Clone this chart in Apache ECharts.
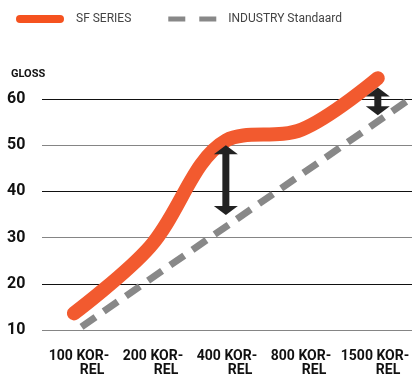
<!DOCTYPE html>
<html>
<head>
<meta charset="utf-8">
<script src="https://cdn.jsdelivr.net/npm/echarts@6/dist/echarts.min.js"></script>
<style>
  html, body { margin: 0; padding: 0; background: #fff; }
  #chart { width: 419px; height: 383px; }
</style>
</head>
<body>
<div id="chart"></div>
<script>
// categories and values
var categories = ['100 KOR-', '200 KOR-', '400 KOR-', '800 KOR-', '1500 KOR-']
var sfIndex = [0, 1, 2, 3, 4]
var sfValues = [13.6, 28, 51, 53.4, 64.5]
// industry trend line endpoints (category index, gloss)
var industryIndex = [0.1, 4.46]
var industryValues = [10.7, 60.4]
// gap arrows: category index, top tip, bottom tip
var arrowIndex = [2, 4]
var arrowTop = [50, 62.5]
var arrowBottom = [34.9, 56.5]

var chart = echarts.init(document.getElementById('chart'))

var font = 'Roboto, "Liberation Sans", sans-serif'

// double headed arrow between two gloss values
function renderArrow(params, api) {
  var top = api.coord([api.value(0), api.value(1)])
  var bot = api.coord([api.value(0), api.value(2)])
  var x = top[0]
  var head = 9
  var hw = 12
  return {
    type: 'group',
    children: [
      {
        type: 'rect',
        shape: { x: x - 3.5, y: top[1] + head - 1, width: 7, height: bot[1] - top[1] - 2 * head + 2 },
        style: { fill: '#222' }
      },
      {
        type: 'polygon',
        shape: { points: [[x, top[1]], [x + hw, top[1] + head], [x - hw, top[1] + head]] },
        style: { fill: '#222' }
      },
      {
        type: 'polygon',
        shape: { points: [[x, bot[1]], [x + hw, bot[1] - head], [x - hw, bot[1] - head]] },
        style: { fill: '#222' }
      }
    ]
  }
}

chart.setOption({
  backgroundColor: '#fff',
  animation: false,
  title: {
    text: 'GLOSS',
    left: 6,
    top: 64,
    textStyle: { fontFamily: font, fontSize: 11, fontWeight: 'bold', color: '#111' }
  },
  legend: {
    left: 11,
    top: 8,
    itemWidth: 48,
    itemHeight: 8,
    itemGap: 37,
    textStyle: { fontFamily: font, fontSize: 12, color: '#444', padding: [0, 0, 0, 7] },
    data: [
      {
        name: 'SF SERIES',
        icon: 'path://M4,0H44A4,4 0 0 1 44,8H4A4,4 0 0 1 4,0Z',
        itemStyle: { color: '#f5521f' }
      },
      {
        name: 'INDUSTRY Standaard',
        icon: 'path://M0,0H17V5H0Z M31,0H48V5H31Z',
        itemStyle: { color: '#888' }
      }
    ]
  },
  grid: {
    left: 42,
    right: 7,
    top: 99,
    bottom: 53
  },
  xAxis: [
    {
      type: 'category',
      data: categories,
      boundaryGap: true,
      axisLine: { show: false },
      axisTick: { show: false },
      axisLabel: {
        interval: 0,
        hideOverlap: false,
        margin: 19,
        fontFamily: font,
        fontSize: 14,
        fontWeight: 'bold',
        color: '#111',
        lineHeight: 14,
        formatter: function(v) {
          return v + '\n{r|REL}'
        },
        rich: {
          r: {
            fontFamily: font,
            fontSize: 14,
            fontWeight: 'bold',
            color: '#111',
            lineHeight: 14,
            padding: [0, 0, 0, 26]
          }
        }
      }
    },
    {
      type: 'value',
      show: false,
      min: -0.42,
      max: 4.45
    }
  ],
  yAxis: {
    type: 'value',
    min: 10,
    max: 60,
    interval: 10,
    axisLine: { show: false },
    axisTick: { show: false },
    axisLabel: {
      align: 'left',
      margin: 35,
      fontFamily: font,
      fontSize: 16,
      fontWeight: 'bold',
      color: '#111'
    },
    splitLine: {
      lineStyle: { color: ['#858585', '#111'], width: 1.2 }
    }
  },
  series: [
    {
      name: 'INDUSTRY Standaard',
      type: 'line',
      xAxisIndex: 1,
      clip: false,
      symbol: 'none',
      data: industryIndex.map(function(x, i) { return [x, industryValues[i]] }),
      lineStyle: { color: '#888', width: 7, type: [17, 10] },
      itemStyle: { color: '#888' }
    },
    {
      name: 'SF SERIES',
      type: 'line',
      xAxisIndex: 1,
      clip: false,
      symbol: 'none',
      smooth: 0.35,
      data: sfIndex.map(function(x, i) { return [x, sfValues[i]] }),
      lineStyle: { color: '#f25a2f', width: 14, cap: 'round' },
      itemStyle: { color: '#f25a2f' }
    },
    {
      name: 'gap',
      type: 'custom',
      xAxisIndex: 1,
      clip: false,
      silent: true,
      renderItem: renderArrow,
      data: arrowIndex.map(function(x, i) { return [x, arrowTop[i], arrowBottom[i]] }),
      z: 5
    }
  ]
})
</script>
</body>
</html>
